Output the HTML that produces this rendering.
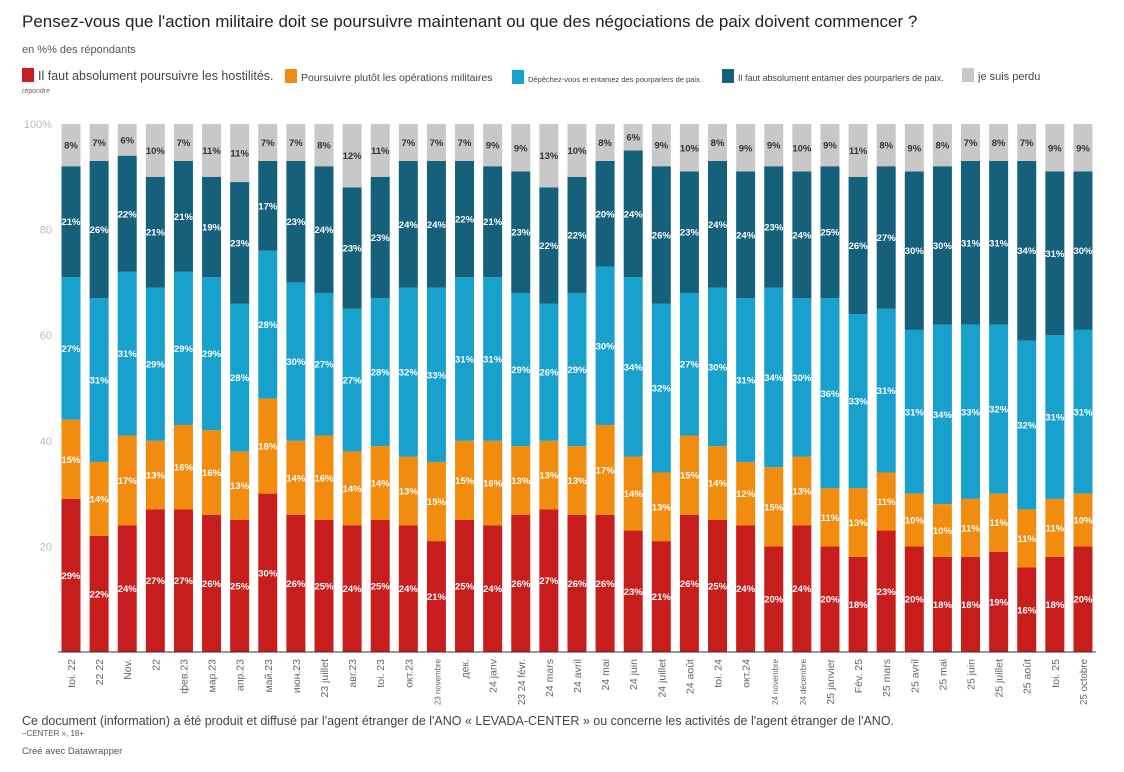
<!DOCTYPE html>
<html><head><meta charset="utf-8"><style>
body{margin:0;background:#fff;width:1124px;height:772px;overflow:hidden;font-family:"Liberation Sans","DejaVu Sans",sans-serif;}
.t{position:absolute;white-space:nowrap}
.sw{display:inline-block;width:12px;height:14px;vertical-align:-2px;margin-right:4px}
</style></head><body>
<div class="t" style="left:22px;top:12px;font-size:17px;color:#222">Pensez-vous que l'action militaire doit se poursuivre maintenant ou que des négociations de paix doivent commencer ?</div>
<div class="t" style="left:22px;top:44px;font-size:11px;color:#555">en %% des répondants</div>
<div class="t" style="left:22px;top:68px;font-size:12.5px;color:#444"><span class="sw" style="background:#c71e1d"></span>Il faut absolument poursuivre les hostilités.</div>
<div class="t" style="left:285px;top:69px;font-size:10.5px;color:#444"><span class="sw" style="background:#f28c0f"></span>Poursuivre plutôt les opérations militaires</div>
<div class="t" style="left:512px;top:70px;font-size:7.5px;color:#444"><span class="sw" style="background:#18a1cd"></span>Dépêchez-vous et entamez des pourparlers de paix.</div>
<div class="t" style="left:722px;top:69px;font-size:9px;color:#444"><span class="sw" style="background:#15607a"></span>Il faut absolument entamer des pourparlers de paix.</div>
<div class="t" style="left:962px;top:68px;font-size:11px;color:#444"><span class="sw" style="background:#c8c8c8"></span>je suis perdu</div>
<div class="t" style="left:22px;top:88px;font-size:7px;color:#666">répondre</div>
<svg id="chart" width="1124" height="772" style="position:absolute;left:0;top:0"></svg>
<div class="t" style="left:22px;top:714px;font-size:12.5px;color:#444">Ce document (information) a été produit et diffusé par l'agent étranger de l'ANO « LEVADA-CENTER » ou concerne les activités de l'agent étranger de l'ANO.</div>
<div class="t" style="left:22px;top:729px;font-size:8px;color:#555">–CENTER », 18+</div>
<div class="t" style="left:22px;top:746px;font-size:9.5px;color:#555">Créé avec Datawrapper</div>
<script>
const categories=["toi. 22","22 22","Nov.","22","фев.23","мар.23","апр.23","май.23","июн.23","23 juillet","авг.23","toi. 23","окт.23","23 novembre","дек.","24 janv","23 24 févr.","24 mars","24 avril","24 mai","24 juin","24 juillet","24 août","toi. 24","окт.24","24 novembre","24 décembre","25 janvier","Fév. 25","25 mars","25 avril","25 mai","25 juin","25 juillet","25 août","toi. 25","25 octobre"];
const red=[29,22,24,27,27,26,25,30,26,25,24,25,24,21,25,24,26,27,26,26,23,21,26,25,24,20,24,20,18,23,20,18,18,19,16,18,20];
const orange=[15,14,17,13,16,16,13,18,14,16,14,14,13,15,15,16,13,13,13,17,14,13,15,14,12,15,13,11,13,11,10,10,11,11,11,11,10];
const lightBlue=[27,31,31,29,29,29,28,28,30,27,27,28,32,33,31,31,29,26,29,30,34,32,27,30,31,34,30,36,33,31,31,34,33,32,32,31,31];
const darkBlue=[21,26,22,21,21,19,23,17,23,24,23,23,24,24,22,21,23,22,22,20,24,26,23,24,24,23,24,25,26,27,30,30,31,31,34,31,30];
const gray=[8,7,6,10,7,11,11,7,7,8,12,11,7,7,7,9,9,13,10,8,6,9,10,8,9,9,10,9,11,8,9,8,7,8,7,9,9];
const yTicks=[100,80,60,40,20];
const NS="http://www.w3.org/2000/svg";
const svg=document.getElementById('chart');
const y=v=>652-v*5.28;
const x=i=>71+i*28.11;
const bw=19;
function el(tag,attrs){const e=document.createElementNS(NS,tag);for(const k in attrs)e.setAttribute(k,attrs[k]);svg.appendChild(e);return e;}
yTicks.forEach(t=>{
  const tx=el('text',{x:52,y:y(t)+4,'text-anchor':'end','font-size':11,fill:'#bbb'});
  
  
  tx.textContent=t===100?'100%':t;
});
const series=[[red,'#c71e1d','#fff','red'],[orange,'#f28c0f','#fff','orange'],[lightBlue,'#18a1cd','#fff','lightblue'],[darkBlue,'#15607a','#fff','darkblue'],[gray,'#c8c8c8','#333','gray']];
categories.forEach((c,i)=>{
  let base=0;
  series.forEach(([arr,col,tc,nm],si)=>{
    const v=arr[i];
    const h=si===4?Math.max(0,100-base):v;
    const r=el('rect',{x:x(i)-bw/2,y:y(base+h),width:bw,height:h*5.28,fill:col});
    
    
    const tx=el('text',{x:x(i),y:y(base+h/2)+3.5,'text-anchor':'middle','font-size':9.5,'font-weight':'bold',fill:tc});
    
    
    tx.textContent=v+'%';
    base+=h;
  });
  const lx=x(i)+4;
  const lb=el('text',{x:lx,y:659,'text-anchor':'end','font-size':10.5,fill:'#666',transform:`rotate(-90 ${lx} 659)`});
  
  
  lb.textContent=c;
  const len=lb.getComputedTextLength();
  if(len>46){lb.setAttribute('font-size',(10.5*46/len).toFixed(2));}
});
const ax=el('line',{x1:58,x2:1096,y1:652,y2:652,stroke:'#333','stroke-width':1});


</script>
</body></html>
